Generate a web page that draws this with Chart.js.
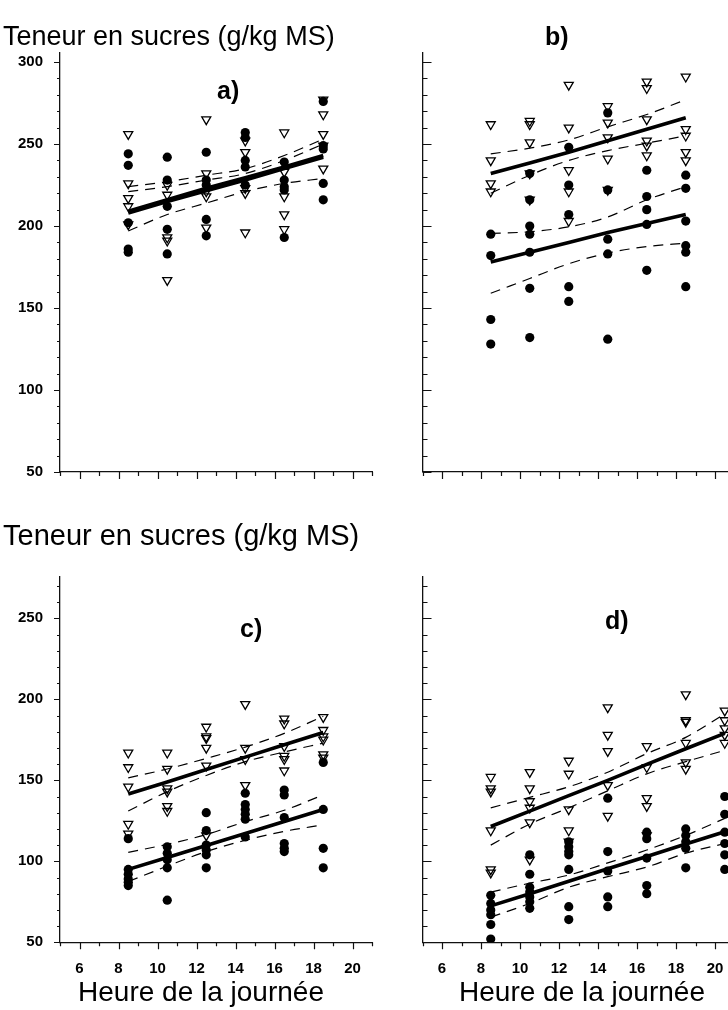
<!DOCTYPE html>
<html>
<head>
<meta charset="utf-8">
<script src="https://cdn.jsdelivr.net/npm/chart.js@4.4.1/dist/chart.umd.min.js"></script>
<style>
html, body { margin: 0; padding: 0; background: #fff; width: 728px; height: 1010px; overflow: hidden; position: relative; }
canvas { position: absolute; left: 0; top: 0; }
.txt { position: absolute; font-family: "Liberation Sans", Arial, sans-serif; color: #000; white-space: nowrap; line-height: 1; }
.bold { font-weight: bold; }
.center { transform: translateX(-50%); }
</style>
</head>
<body>
<canvas id="chart-a" width="760" height="1010"></canvas>
<canvas id="chart-b" width="760" height="1010"></canvas>
<canvas id="chart-c" width="760" height="1010"></canvas>
<canvas id="chart-d" width="760" height="1010"></canvas>

<div class="txt" style="left:3px; top:23px; font-size:27px;">Teneur en sucres (g/kg MS)</div>
<div class="txt" style="left:3px; top:521px; font-size:29px;">Teneur en sucres (g/kg MS)</div>
<div class="txt bold" style="left:217px; top:78px; font-size:25px;">a)</div>
<div class="txt bold" style="left:545px; top:24px; font-size:25px;">b)</div>
<div class="txt bold" style="left:240px; top:616px; font-size:25px;">c)</div>
<div class="txt bold" style="left:605px; top:608px; font-size:25px;">d)</div>
<div class="txt center" style="left:201px; top:978px; font-size:28px;">Heure de la journée</div>
<div class="txt center" style="left:582px; top:978px; font-size:28px;">Heure de la journée</div>

<script>
// Sampling hours (x positions of the point columns)
const hours = [8.5, 10.5, 12.5, 14.5, 16.5, 18.5];
const hoursD = [8.5, 10.5, 12.5, 14.5, 16.5, 18.5, 20.5];

// Tick labels
const yLabelsTop = [50, 100, 150, 200, 250, 300];
const yLabelsBottom = [50, 100, 150, 200, 250];
const xLabels = [6, 8, 10, 12, 14, 16, 18, 20];

// Panel a) - one list per hour column
const aTri = [
    [256, 226, 217, 212, 201],
    [225, 219, 193, 191, 167],
    [265, 232, 221, 218, 199],
    [252, 245, 223, 220, 196],
    [257, 233, 218, 207, 198],
    [277, 268, 256, 249, 235]
];
const aDot = [
    [244, 237, 202, 186, 184],
    [242, 228, 212, 198, 183],
    [245, 228, 225, 204, 194],
    [257, 254, 240, 236, 225],
    [239, 228, 224, 222, 193],
    [276, 249, 247, 226, 216]
];
const aFitTri = [209, 216, 223, 229.5, 236, 243];
const aFitDot = [208, 215, 221.5, 228, 235, 242];
const aHi1 = [224, 227, 231, 235, 243, 253];
const aHi2 = [221, 224, 228, 232, 240, 250];
const aLo = [197, 207, 214, 221, 226, 229];

// Panel b)
const bTri = [
    [262, 240, 226, 221],
    [264, 262, 251, 232, 216],
    [286, 260, 234, 221, 203],
    [273, 263, 254, 241, 222],
    [288, 284, 265, 252, 249, 243],
    [291, 259, 255, 245, 240]
];
const bDot = [
    [195, 182, 143, 128],
    [232, 216, 200, 195, 184, 162, 132],
    [248, 225, 207, 163, 154],
    [269, 222, 192, 183, 131],
    [234, 218, 210, 201, 173],
    [231, 223, 203, 188, 184, 163]
];
const bFitTri = [232, 238.5, 245, 252, 259, 266];
const bHiTri = [244, 247.5, 252.5, 260.5, 268, 277];
const bLoTri = [220, 231, 240, 246, 250.5, 255];
const bFitDot = [178, 184, 190, 196, 201.5, 207];
const bHiDot = [195.5, 196.5, 199.5, 205.5, 216, 224];
const bLoDot = [159, 168, 177, 183.5, 187.5, 189.5];

// Panel c)
const cTri = [
    [167, 158, 146, 123, 117],
    [167, 157, 145, 143, 134, 131],
    [183, 177, 176, 170, 159, 116],
    [197, 170, 163, 147],
    [188, 185, 171, 165, 163, 156],
    [189, 181, 177, 175, 166, 164]
];
const cDot = [
    [114, 95, 92, 89, 87, 85],
    [109, 105, 101, 96, 76],
    [130, 119, 110, 107, 104, 96],
    [142, 135, 132, 129, 126, 115],
    [144, 141, 127, 111, 108, 106],
    [161, 132, 108, 96]
];
const cFitTri = [141.5, 149, 156.7, 164.3, 172, 179.5];
const cHiTri = [151.5, 157, 163.5, 170.5, 179, 189.5];
const cLoTri = [131, 143, 153, 161.5, 167.5, 173];
const cFitDot = [95, 102.4, 109.8, 117.2, 124.6, 132];
const cHiDot = [105.5, 110.5, 116.5, 124.5, 131.5, 141];
const cLoDot = [87.5, 97, 106, 113, 118.5, 122.5];

// Panel d)
const dTri = [
    [152, 145, 143, 119, 95, 93],
    [155, 145, 137, 133, 124, 101],
    [162, 154, 132, 119, 112],
    [195, 178, 168, 147, 128],
    [171, 158, 139, 134, 116],
    [203, 187, 186, 173, 161, 157],
    [193, 187, 182, 178, 173]
];
const dDot = [
    [79, 74, 70, 67, 61, 52],
    [104, 92, 84, 81, 78, 75, 71],
    [112, 109, 106, 104, 95, 72, 64],
    [139, 106, 94, 78, 72],
    [118, 114, 102, 85, 80],
    [120, 116, 112, 108, 96],
    [140, 129, 118, 111, 104, 95]
];
const dFitTri = [121.5, 131, 140.5, 150, 159.8, 169.5, 179];
const dHiTri = [133, 139.5, 146, 155, 166.5, 176.5, 191];
const dLoTri = [110, 123, 133, 143.5, 154, 161.5, 168.5];
const dFitDot = [72.5, 80, 87.7, 95.4, 103, 110.7, 118.3];
const dHiDot = [81, 86.5, 91.5, 99, 107, 116, 126.5];
const dLoDot = [65.5, 74, 84, 90.5, 96.5, 105, 111];

Chart.defaults.font.family = "'Liberation Sans', Arial, sans-serif";
Chart.defaults.color = '#000';

const CANVAS_W = 760, CANVAS_H = 1010;
const Y_AXIS_W = 50, X_AXIS_H = 50;

// Helpers to turn the column lists into {x, y} points
function columnPoints(xs, cols) {
    return cols.flatMap((col, i) => col.map(v => ({ x: xs[i], y: v })));
}
function curvePoints(xs, vals) {
    return vals.map((v, i) => ({ x: xs[i], y: v }));
}

function triSet(xs, cols) {
    return {
        data: columnPoints(xs, cols),
        pointStyle: 'triangle',
        rotation: 180,
        radius: 5.2,
        borderWidth: 1.3,
        borderColor: '#000',
        backgroundColor: 'rgba(255,255,255,0)',
        order: 2
    };
}
function dotSet(xs, cols) {
    return {
        data: columnPoints(xs, cols),
        pointStyle: 'circle',
        radius: 4.6,
        borderWidth: 0,
        backgroundColor: '#000',
        order: 3
    };
}
function fitSet(xs, vals) {
    return {
        data: curvePoints(xs, vals),
        showLine: true,
        pointRadius: 0,
        borderColor: '#000',
        borderWidth: 3.6,
        order: 1
    };
}
function bandSet(xs, vals) {
    return {
        data: curvePoints(xs, vals),
        showLine: true,
        pointRadius: 0,
        borderColor: '#000',
        borderWidth: 1.2,
        borderDash: [10, 7],
        cubicInterpolationMode: 'monotone',
        order: 1
    };
}

// Draws the major / minor tick marks through the scales
const tickMarks = {
    id: 'tickMarks',
    afterDraw(chart, args, opts) {
        const { ctx, chartArea: area, scales: { x, y } } = chart;
        ctx.save();
        ctx.strokeStyle = '#111';
        ctx.lineWidth = 1.2;
        ctx.beginPath();
        for (let v = 50; v <= opts.yTop; v += 10) {
            const py = Math.round(y.getPixelForValue(v)) + 0.5;
            const len = v % 50 === 0 ? opts.yMajor : opts.yMinor;
            ctx.moveTo(area.left, py);
            ctx.lineTo(area.left + opts.ySide * len, py);
        }
        for (let v = 5; v <= 21; v++) {
            const px = Math.round(x.getPixelForValue(v)) + 0.5;
            const len = v % 2 === 0 ? 7 : 4;
            ctx.moveTo(px, area.bottom);
            ctx.lineTo(px, area.bottom + len);
        }
        ctx.stroke();
        ctx.restore();
    }
};

function makePanel(id, p) {
    new Chart(document.getElementById(id), {
        type: 'scatter',
        data: { datasets: p.datasets },
        options: {
            responsive: false,
            animation: false,
            layout: {
                padding: {
                    left: p.left - Y_AXIS_W,
                    top: p.top,
                    right: CANVAS_W - p.right,
                    bottom: CANVAS_H - p.bottom - X_AXIS_H
                }
            },
            plugins: {
                legend: { display: false },
                tooltip: { enabled: false },
                tickMarks: p.ticks
            },
            scales: {
                x: {
                    type: 'linear',
                    min: 5,
                    max: 21,
                    afterFit: s => { s.height = X_AXIS_H; },
                    afterBuildTicks: s => { s.ticks = xLabels.map(v => ({ value: v })); },
                    grid: { drawOnChartArea: false, drawTicks: false },
                    border: { display: true, color: '#111', width: 1.3 },
                    ticks: {
                        autoSkip: false,
                        maxRotation: 0,
                        padding: 18,
                        font: { size: 15, weight: 'bold' },
                        callback: v => p.xLabels ? String(v) : ''
                    }
                },
                y: {
                    type: 'linear',
                    min: 50,
                    max: p.yMax,
                    afterFit: s => { s.width = Y_AXIS_W; },
                    afterBuildTicks: s => { s.ticks = p.yTicks.map(v => ({ value: v })); },
                    grid: { drawOnChartArea: false, drawTicks: false },
                    border: { display: true, color: '#111', width: 1.3 },
                    ticks: {
                        autoSkip: false,
                        padding: 17,
                        font: { size: 15, weight: 'bold' },
                        callback: v => p.yLabels ? String(v) : ''
                    }
                }
            }
        },
        plugins: [tickMarks]
    });
}

// Panel geometry (chart area in page pixels)
const TOP_A = 52.2, BOTTOM_A = 472;
const TOP_C = 576.2, BOTTOM_C = 942.3;

makePanel('chart-a', {
    left: 60, right: 372, top: TOP_A, bottom: BOTTOM_A, yMax: 306,
    yTicks: yLabelsTop, yLabels: true, xLabels: false,
    ticks: { yTop: 300, ySide: -1, yMajor: 6, yMinor: 3 },
    datasets: [
        fitSet(hours, aFitTri), fitSet(hours, aFitDot),
        bandSet(hours, aHi1), bandSet(hours, aHi2), bandSet(hours, aLo),
        triSet(hours, aTri), dotSet(hours, aDot)
    ]
});

makePanel('chart-b', {
    left: 422.5, right: 734.5, top: TOP_A, bottom: BOTTOM_A, yMax: 306,
    yTicks: yLabelsTop, yLabels: false, xLabels: false,
    ticks: { yTop: 300, ySide: 1, yMajor: 9, yMinor: 5 },
    datasets: [
        fitSet(hours, bFitTri), bandSet(hours, bHiTri), bandSet(hours, bLoTri),
        fitSet(hours, bFitDot), bandSet(hours, bHiDot), bandSet(hours, bLoDot),
        triSet(hours, bTri), dotSet(hours, bDot)
    ]
});

makePanel('chart-c', {
    left: 60, right: 372, top: TOP_C, bottom: BOTTOM_C, yMax: 276,
    yTicks: yLabelsBottom, yLabels: true, xLabels: true,
    ticks: { yTop: 270, ySide: -1, yMajor: 6, yMinor: 3 },
    datasets: [
        fitSet(hours, cFitTri), bandSet(hours, cHiTri), bandSet(hours, cLoTri),
        fitSet(hours, cFitDot), bandSet(hours, cHiDot), bandSet(hours, cLoDot),
        triSet(hours, cTri), dotSet(hours, cDot)
    ]
});

makePanel('chart-d', {
    left: 422.5, right: 734.5, top: TOP_C, bottom: BOTTOM_C, yMax: 276,
    yTicks: yLabelsBottom, yLabels: false, xLabels: true,
    ticks: { yTop: 270, ySide: 1, yMajor: 9, yMinor: 5 },
    datasets: [
        fitSet(hoursD, dFitTri), bandSet(hoursD, dHiTri), bandSet(hoursD, dLoTri),
        fitSet(hoursD, dFitDot), bandSet(hoursD, dHiDot), bandSet(hoursD, dLoDot),
        triSet(hoursD, dTri), dotSet(hoursD, dDot)
    ]
});
</script>
</body>
</html>
